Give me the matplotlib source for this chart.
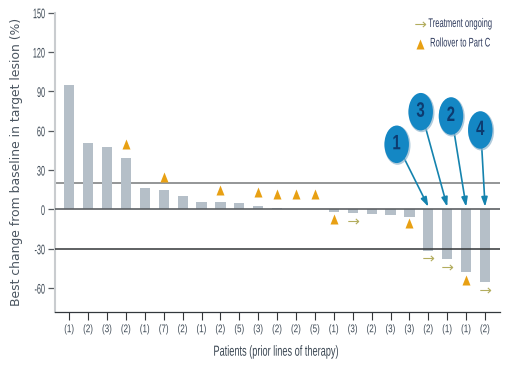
import matplotlib
matplotlib.use("Agg")
import matplotlib.pyplot as plt
import matplotlib.patheffects as pe
from matplotlib.lines import Line2D
from matplotlib.patches import Ellipse
from matplotlib.path import Path
from matplotlib.transforms import Affine2D

W, H = 516, 375
FONT = ["Liberation Sans", "DejaVu Sans"]

prior_lines = ["(1)", "(2)", "(3)", "(2)", "(1)", "(7)", "(2)", "(1)", "(2)", "(5)", "(3)", "(2)",
               "(2)", "(5)", "(1)", "(3)", "(2)", "(3)", "(3)", "(2)", "(1)", "(1)", "(2)"]
best_change = [95, 51, 47.5, 39, 16, 15, 10.5, 6, 5.5, 5, 2.5, 1,
               0, 0, -2, -3, -3.5, -4.5, -5.5, -31.5, -38, -48, -55]
rollover_idx = [3, 5, 8, 10, 11, 12, 13, 14, 18, 21]
rollover_y = [50, 25, 15, 13, 12, 11.5, 11.5, -7, -10, -53.5]
ongoing_idx = [15, 19, 20, 22]
ongoing_y = [-9, -37, -44, -61.5]
y_ticks = [-60, -30, 0, 30, 60, 90, 120, 150]
callout_labels = ["1", "3", "2", "4"]
callout_targets = [19, 20, 21, 22]
legend_labels = ["Treatment ongoing", "Rollover to Part C"]

BAR = "#b5bfc8"
ORANGE = "#e8a013"
KHAKI = "#b3ad5e"
BLUE = "#1487c4"
NAVY = "#0d3b70"
TEXT = "#3a4652"


class Condense(pe.AbstractPathEffect):
    """Squeeze real text horizontally, keeping the chosen anchor in place."""

    def __init__(self, sx, anchor=0.5):
        super().__init__()
        self.sx = sx
        self.anchor = anchor

    def draw_path(self, renderer, gc, tpath, affine, rgbFace=None):
        width = tpath.get_extents().x1
        shift = (1 - self.sx) * width * self.anchor
        squeezed = Affine2D().scale(self.sx, 1).translate(shift, 0) + affine
        renderer.draw_path(gc, tpath, squeezed, rgbFace)


fig = plt.figure(figsize=(W / 100, H / 100), dpi=100, facecolor="white")
ax = fig.add_axes([55 / W, 1 - 311.7 / H, 445 / W, 299 / H])

xs = list(range(len(best_change)))
ax.bar(xs, best_change, width=0.54, color=BAR, zorder=2)
ax.axhline(20, color="#77797b", lw=1.1, zorder=1)
ax.axhline(-30, color="#333638", lw=1.1, zorder=3)
ax.axhline(0, color="#5c6064", lw=1.2, zorder=3)

arrow_path = Path([(-1, 0), (1, 0), (0.45, 0.5), (1, 0), (0.45, -0.5)],
                  [Path.MOVETO, Path.LINETO, Path.MOVETO, Path.LINETO, Path.LINETO])
triangle_path = Path([(-0.8, -1), (0.8, -1), (0, 1), (-0.8, -1)], closed=True)
ax.plot(rollover_idx, rollover_y, ls="none", marker=triangle_path, ms=7.2, color=ORANGE, mew=0, zorder=4)
ax.plot(ongoing_idx, ongoing_y, ls="none", marker=arrow_path, ms=7.5, mfc="none", mec=KHAKI, mew=0.8, zorder=4)

ax.set_xlim(-0.757, 22.79)
ax.set_ylim(-78, 150)
ax.set_xticks(xs)
ax.set_xticklabels(prior_lines, family=FONT, fontsize=8, color=TEXT)
ax.set_yticks(y_ticks)
ax.set_yticklabels([str(v) for v in y_ticks], family=FONT, fontsize=10, color=TEXT)
ax.tick_params(axis="x", length=5.5, width=0.8, color="#333638", pad=3.5)
ax.tick_params(axis="y", length=5, width=0.9, color="#555a5f", pad=2)
for t in ax.get_xticklabels():
    t.set_path_effects([Condense(0.72, 0.5)])
for t in ax.get_yticklabels():
    t.set_path_effects([Condense(0.52, 1.0)])
ax.spines["top"].set_visible(False)
ax.spines["right"].set_visible(False)
ax.spines["left"].set_color("#c9cccf")
ax.spines["left"].set_linewidth(1.5)
ax.spines["bottom"].set_color("#33383d")
ax.spines["bottom"].set_linewidth(0.9)

fig.text(277 / W, 1 - 351.7 / H, "Patients (prior lines of therapy)", family=FONT, fontsize=10.5,
         color=TEXT, ha="center", va="center", path_effects=[Condense(0.63, 0.5)])
fig.text(17 / W, 1 - 161.5 / H, "Best change from baseline in target lesion (%)", fontsize=8.9,
         color="#4a5560", rotation=90, ha="center", va="center")

legend_rows = [(24, arrow_path, 7.5, "none", KHAKI, 0.8),
               (43.5, triangle_path, 7.2, ORANGE, ORANGE, 0)]
for label, (row_y, marker, ms, mfc, mec, mew) in zip(legend_labels, legend_rows):
    fig.add_artist(Line2D([420 / W], [1 - row_y / H], transform=fig.transFigure, ls="none", marker=marker,
                          ms=ms, mfc=mfc, mec=mec, mew=mew))
    fig.text(460.5 / W, 1 - row_y / H, label, family=FONT, fontsize=9, color="#2e3a5c",
             ha="center", va="center", path_effects=[Condense(0.61, 0.5)])

bubble_centres = [(396.7, 144.3), (420.7, 111.7), (451, 116), (480.3, 130)]
for label, target, (cx, cy) in zip(callout_labels, callout_targets, bubble_centres):
    ax.annotate("", xy=(target, 2), xycoords="data", xytext=(cx + 0.5, H - cy),
                textcoords="figure pixels", annotation_clip=False,
                arrowprops=dict(arrowstyle="-|>,head_width=0.18,head_length=0.55", color="#1583ae", lw=1.2,
                                shrinkA=0, shrinkB=0), zorder=5)
    fig.add_artist(Ellipse(((cx + 0.8) / W, 1 - (cy + 1) / H), 26 / W, 39 / H, transform=fig.transFigure,
                           facecolor="#8fb4cc", edgecolor="none", alpha=0.7, zorder=6))
    fig.add_artist(Ellipse((cx / W, 1 - cy / H), 24.5 / W, 37.5 / H, transform=fig.transFigure,
                           facecolor=BLUE, edgecolor="none", zorder=7))
    fig.text(cx / W, 1 - (cy - 0.5) / H, label, family=FONT, fontsize=15, fontweight="bold",
             color=NAVY, ha="center", va="center", zorder=8, path_effects=[Condense(0.72, 0.5)])

fig.savefig("out.png", dpi=100)
